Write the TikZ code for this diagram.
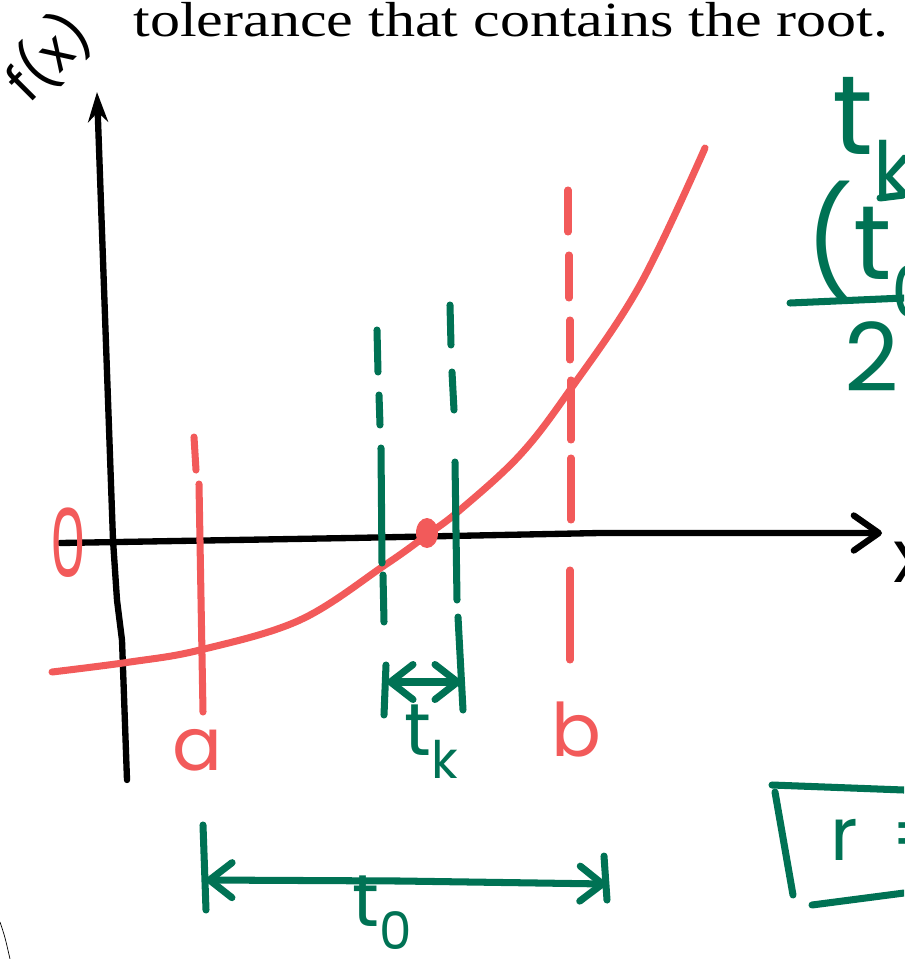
\documentclass[tikz,border=0pt]{standalone}
\usepackage{fontspec}
\setmainfont{Liberation Serif}
\newfontfamily\handfont{Poppins}
\usetikzlibrary{arrows.meta}

\definecolor{sketchred}{RGB}{242,90,90}
\definecolor{sketchgreen}{RGB}{0,114,84}

\tikzset{
  pen/.style={line width=4pt, line cap=round, line join=round},
  redpen/.style={pen, sketchred},
  greenpen/.style={pen, sketchgreen},
  axispen/.style={pen, line width=3.6pt, black},
  hand/.style={font=\handfont\fontsize{42}{42}\selectfont, inner sep=0pt},
  barbs/.style={{Straight Barb[length=4.5mm, width=7mm, round]}-{Straight Barb[length=4.5mm, width=7mm, round]}}
}

\begin{document}
\begin{tikzpicture}[x=0.2mm, y=-0.2mm]
  \useasboundingbox (0,0) rectangle (904,959);
  \clip (0,0) rectangle (904,959);

  % text above
  \node[anchor=base west, inner sep=0pt, font=\fontsize{28}{28}\selectfont] (caption) at (133,36) {\scalebox{1.22}[1]{tolerance that contains the root.}};

  % axes
  \coordinate (ybot) at (127,780);
  \coordinate (ytop) at (97,92);
  \coordinate (xleft) at (60,543);
  \coordinate (xright) at (882,533);
  \draw[axispen, -{Stealth[length=6mm, width=4mm]}] (ybot) -- (122,640) -- (117,600) -- (113,540) -- (ytop);
  \draw[axispen, -{Straight Barb[length=5mm, width=7mm, round]}] (xleft) -- (350,538) -- (600,533) -- (xright);
  \node[hand, rotate=45, anchor=center, font=\handfont\fontsize{31}{31}\selectfont] (fx) at (48,57) {f(x)};
  \node[hand, anchor=west] (xlabel) at (893,562) {x};
  \node[hand, text=sketchred, font=\handfont\fontsize{54}{54}\selectfont] (zero) at (68,543) {\scalebox{0.6}[1]{0}};

  % function
  \draw[redpen] plot[smooth, tension=0.6] coordinates {(52,672) (130,662) (200,650) (300,620) (385,565) (427,535) (460,510) (520,455) (570,390) (640,285) (705,148)};
  \coordinate (root) at (427,533);
  \fill[sketchred] (root) ellipse (11 and 15);

  % interval a b
  \draw[redpen] (194,437) -- (196,470) (199,484) -- (203,712);
  \draw[redpen] (568,190) -- (568,232) (569,255) -- (569,298) (570,320) -- (570,360)
                (571,380) -- (571,440) (571,458) -- (571,520) (570,570) -- (570,660);
  \node[hand, text=sketchred] (a) at (197,750) {a};
  \node[hand, text=sketchred] (b) at (576,730) {b};

  % small interval t_k
  \draw[greenpen] (377,330) -- (378,372) (379,395) -- (380,425) (381,448) -- (382,563) (383,575) -- (384,622);
  \draw[greenpen] (450,305) -- (451,345) (452,372) -- (454,410) (455,462) -- (457,600) (458,617) -- (463,710);
  \coordinate (tkleft) at (387,682);
  \coordinate (tkright) at (461,682);
  \draw[greenpen] (386,665) -- (384,715);
  \draw[greenpen, barbs] (tkleft) -- (tkright);
  \node[hand, text=sketchgreen] (tk) at (432,742) {t\textsubscript{k}};

  % big interval t_0
  \coordinate (t0left) at (206,880);
  \coordinate (t0right) at (606,884);
  \draw[greenpen] (203,825) -- (206,910);
  \draw[greenpen] (604,856) -- (607,900);
  \draw[greenpen, barbs] (t0left) -- (400,881) -- (t0right);
  \node[hand, text=sketchgreen] (t0) at (383,913) {t\textsubscript{0}};

  % formula on the right
  \node[hand, text=sketchgreen, anchor=west, font=\handfont\fontsize{64}{64}\selectfont] (tkfrac) at (832,138) {t\textsubscript{k}};
  \node[hand, text=sketchgreen, anchor=west, font=\handfont\fontsize{60}{60}\selectfont] (paren) at (805,250) {(t\textsubscript{0}};
  \draw[greenpen] (880,198) -- (904,195);
  \draw[greenpen] (790,303) -- (904,298);
  \node[hand, text=sketchgreen, font=\handfont\fontsize{54}{54}\selectfont] (two) at (872,357) {2};

  % boxed result
  \draw[greenpen] (772,785) -- (904,790);
  \draw[greenpen] (775,792) -- (793,895);
  \draw[greenpen] (812,905) -- (904,893);
  \node[hand, text=sketchgreen, anchor=west] (r) at (830,840) {r\hspace{0.45em}=};

  % edge of the page
  \draw[thin] (0,922) .. controls (5,937) .. (10,959);
\end{tikzpicture}
\end{document}
